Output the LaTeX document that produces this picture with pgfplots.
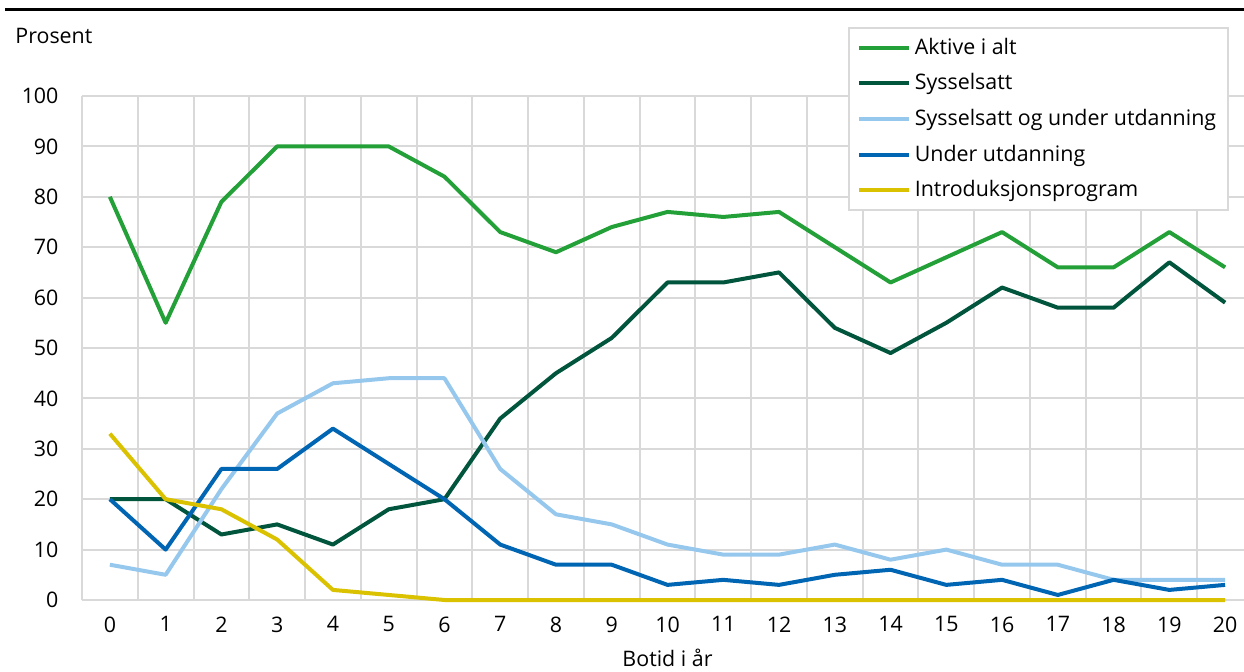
\documentclass[border=0pt]{standalone}
\usepackage{pgfplots}
\pgfplotsset{compat=1.18}
\usepackage{fontspec}
\setmainfont{Open Sans}
\definecolor{gridgray}{RGB}{217,217,217}
\definecolor{cAktive}{RGB}{35,160,56}
\definecolor{cSyss}{RGB}{0,85,60}
\definecolor{cSyssUtd}{RGB}{150,200,238}
\definecolor{cUtd}{RGB}{0,101,179}
\definecolor{cIntro}{RGB}{218,194,0}
\begin{document}
\fontsize{10.7pt}{12.7pt}\selectfont
\begin{tikzpicture}
\path[use as bounding box] (0,0) rectangle (622pt,335.5pt);
\draw[line width=1.5pt] (2.5pt,330.5pt) -- (622pt,330.5pt);
\node[anchor=west, inner sep=0pt] at (7.5pt,317.5pt) {Prosent};
\begin{axis}[
  at={(41pt,35.5pt)}, anchor=south west,
  scale only axis, width=585.5pt, height=252pt,
  xmin=-0.5, xmax=20.5, ymin=0, ymax=100,
  xtick={0,...,20}, minor xtick={-0.5,0.5,...,20.5},
  ytick={0,10,...,100},
  xminorgrids=true, xmajorgrids=false, ymajorgrids=true,
  grid style={draw=gridgray, line width=1pt},
  minor grid style={draw=gridgray, line width=1pt},
  axis x line*=bottom, axis y line*=left,
  axis line style={draw=gridgray, line width=1pt, -},
  major tick length=0pt, minor tick length=0pt,
  tick style={draw=none},
  /pgf/number format/assume math mode=true,
  tick label style={font=\fontsize{10.7pt}{12.7pt}\selectfont},
  yticklabel style={xshift=-8pt},
  xticklabel style={yshift=-4.5pt},
  xlabel={Botid i år},
  xlabel style={font=\fontsize{10.7pt}{12.7pt}\selectfont, yshift=-1pt},
  clip=false,
  legend cell align=left,
  legend style={at={(axis description cs:0.654,1.137)}, anchor=north west,
    draw=gridgray, line width=1pt, fill=white,
    font=\fontsize{10.7pt}{12.7pt}\selectfont,
    inner xsep=4pt, inner ysep=3pt, row sep=4.1pt},
  legend image code/.code={\draw[#1] (0pt,0pt) -- (25pt,0pt);},
  every axis plot/.append style={line width=2pt, line join=round, no markers},
]
\addplot[cAktive] coordinates {(0,80)(1,55)(2,79)(3,90)(4,90)(5,90)(6,84)(7,73)(8,69)(9,74)(10,77)(11,76)(12,77)(13,70)(14,63)(15,68)(16,73)(17,66)(18,66)(19,73)(20,66)};
\addlegendentry{Aktive i alt}
\addplot[cSyss] coordinates {(0,20)(1,20)(2,13)(3,15)(4,11)(5,18)(6,20)(7,36)(8,45)(9,52)(10,63)(11,63)(12,65)(13,54)(14,49)(15,55)(16,62)(17,58)(18,58)(19,67)(20,59)};
\addlegendentry{Sysselsatt}
\addplot[cSyssUtd] coordinates {(0,7)(1,5)(2,22)(3,37)(4,43)(5,44)(6,44)(7,26)(8,17)(9,15)(10,11)(11,9)(12,9)(13,11)(14,8)(15,10)(16,7)(17,7)(18,4)(19,4)(20,4)};
\addlegendentry{Sysselsatt og under utdanning}
\addplot[cUtd] coordinates {(0,20)(1,10)(2,26)(3,26)(4,34)(5,27)(6,20)(7,11)(8,7)(9,7)(10,3)(11,4)(12,3)(13,5)(14,6)(15,3)(16,4)(17,1)(18,4)(19,2)(20,3)};
\addlegendentry{Under utdanning}
\addplot[cIntro] coordinates {(0,33)(1,20)(2,18)(3,12)(4,2)(5,1)(6,0)(7,0)(8,0)(9,0)(10,0)(11,0)(12,0)(13,0)(14,0)(15,0)(16,0)(17,0)(18,0)(19,0)(20,0)};
\addlegendentry{Introduksjonsprogram}
\end{axis}
\end{tikzpicture}
\end{document}
